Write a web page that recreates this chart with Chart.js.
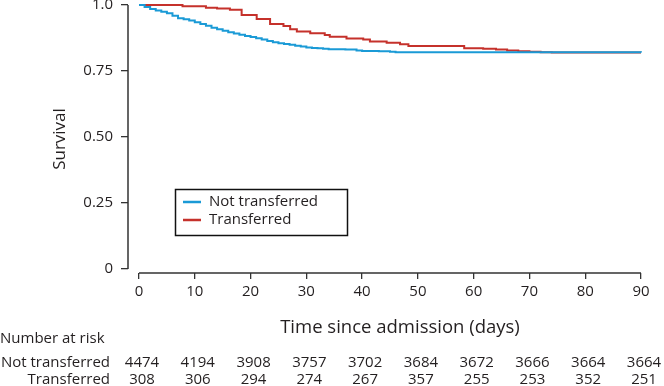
<!DOCTYPE html>
<html><head><meta charset="utf-8">
<script src="https://cdn.jsdelivr.net/npm/chart.js@4"></script>
<style>html,body{margin:0;padding:0;background:#fff}#wrap{width:664px;height:386px;position:relative}</style>
</head><body><div id="wrap"><canvas id="c" width="664" height="386"></canvas></div>
<script>
const FONT = "'Open Sans', sans-serif";
const TEXT = '#231f20';

const seriesNames = ['Not transferred', 'Transferred'];
const notTransferredDays = [0,1,2,3,4,5,6,7,8,9,10,11,12,13,14,15,16,17,18,19,20,21,22,23,24,25,26,27,28,29,30,31,32,33,34,35,37,39,40,43,45,46,90];
const notTransferredSurv = [1.0,0.992,0.985,0.979,0.974,0.969,0.959,0.950,0.946,0.941,0.935,0.928,0.921,0.914,0.908,0.902,0.897,0.892,0.887,0.883,0.879,0.874,0.869,0.864,0.859,0.855,0.852,0.849,0.846,0.843,0.839,0.837,0.836,0.834,0.832,0.832,0.831,0.828,0.826,0.825,0.823,0.821,0.820];
const transferredDays = [0,7.8,12,14,16.3,18.4,21.1,23.5,25.9,27.1,28.3,30.7,33.3,34.2,37.2,40.2,41.4,44.4,46.8,48.3,58.3,61.7,64,66,68,70,72,74,90];
const transferredSurv = [1.0,0.995,0.990,0.987,0.982,0.962,0.947,0.928,0.920,0.908,0.900,0.893,0.886,0.880,0.873,0.869,0.862,0.857,0.851,0.845,0.836,0.834,0.831,0.828,0.825,0.823,0.821,0.820,0.820];

const xTickValues = [0,10,20,30,40,50,60,70,80,90];
const yTickValues = [0,0.25,0.5,0.75,1.0];
const yTickLabels = ['0','0.25','0.50','0.75','1.0'];
const riskTitle = 'Number at risk';
const riskNotTransferred = [4474,4194,3908,3757,3702,3684,3672,3666,3664,3664];
const riskTransferred = [308,306,294,274,267,357,255,253,352,251];
const xTitle = 'Time since admission (days)';
const yTitle = 'Survival';

const COLORS = ['#1a9ad6', '#c5312b'];

function pts(d, s) { return d.map((x, i) => ({x, y: s[i]})); }

const extras = {
  id: 'extras',
  beforeDatasetsDraw(chart) {
    const {ctx, chartArea, scales: {x, y}} = chart;
    ctx.save();
    ctx.strokeStyle = '#333';
    ctx.lineWidth = 1.5;
    ctx.beginPath();
    ctx.moveTo(x.getPixelForValue(xTickValues[0]), chartArea.bottom);
    ctx.lineTo(x.getPixelForValue(xTickValues[xTickValues.length-1]), chartArea.bottom);
    ctx.moveTo(chartArea.left, y.getPixelForValue(yTickValues[0]));
    ctx.lineTo(chartArea.left, y.getPixelForValue(yTickValues[yTickValues.length-1]));
    ctx.stroke();
    ctx.restore();
  },
  afterDraw(chart) {
    const {ctx, scales: {x}} = chart;
    ctx.save();
    ctx.fillStyle = TEXT;
    ctx.textBaseline = 'middle';
    // x title
    ctx.font = "18.5px " + FONT;
    ctx.textAlign = 'center';
    ctx.fillText(xTitle, 400, 328);
    // risk table
    ctx.font = "15px " + FONT;
    ctx.textAlign = 'left';
    ctx.fillText(riskTitle, 0, 339);
    ctx.textAlign = 'right';
    ctx.fillText(seriesNames[0], 110, 363);
    ctx.fillText(seriesNames[1], 110, 380);
    ctx.textAlign = 'center';
    xTickValues.forEach((v, i) => {
      const px = x.getPixelForValue(v) + 3;
      ctx.fillText(String(riskNotTransferred[i]), px, 363);
      ctx.fillText(String(riskTransferred[i]), px, 380);
    });
    // legend
    ctx.strokeStyle = '#111';
    ctx.lineWidth = 1.5;
    ctx.strokeRect(175.5, 189.5, 172, 46);
    ctx.font = "15px " + FONT;
    ctx.textAlign = 'left';
    chart.data.datasets.forEach((ds, i) => {
      const yy = 202 + i * 18;
      ctx.strokeStyle = ds.borderColor;
      ctx.lineWidth = 2.5;
      ctx.beginPath();
      ctx.moveTo(183, yy);
      ctx.lineTo(201, yy);
      ctx.stroke();
      ctx.fillStyle = TEXT;
      ctx.fillText(ds.label, 209, yy);
    });
    ctx.restore();
  }
};

new Chart(document.getElementById('c'), {
  type: 'line',
  data: {
    datasets: [
      {label: seriesNames[0], data: pts(notTransferredDays, notTransferredSurv), borderColor: COLORS[0], borderWidth: 2, stepped: true, pointRadius: 0, fill: false, clip: 6},
      {label: seriesNames[1], data: pts(transferredDays, transferredSurv), borderColor: COLORS[1], borderWidth: 2, stepped: true, pointRadius: 0, fill: false, clip: 6}
    ]
  },
  options: {
    responsive: false,
    animation: false,
    devicePixelRatio: 1,
    layout: {padding: {top: 5, right: 23, left: 0, bottom: 0}},
    plugins: {legend: {display: false}, tooltip: {enabled: false}},
    scales: {
      x: {
        type: 'linear', min: -1.972, max: 90,
        afterBuildTicks: s => { s.ticks = xTickValues.map(v => ({value: v})); },
        afterFit: s => { s.height = 113; s.paddingLeft = 0; s.paddingRight = 0; },
        ticks: {font: {family: FONT, size: 15}, color: TEXT, padding: 4, maxRotation: 0, autoSkip: false, callback: v => String(v)},
        grid: {drawOnChartArea: false, drawTicks: true, tickLength: 6, color: '#333', lineWidth: 1.3},
        border: {display: false}
      },
      y: {
        type: 'linear', min: -0.01515, max: 1.0,
        afterBuildTicks: s => { s.ticks = yTickValues.map(v => ({value: v})); },
        afterFit: s => { s.width = 128; s.paddingTop = 0; s.paddingBottom = 0; },
        ticks: {font: {family: FONT, size: 15}, color: TEXT, padding: 8, autoSkip: false,
          callback: v => { const i = yTickValues.indexOf(v); return i >= 0 ? yTickLabels[i] : ''; }},
        grid: {drawOnChartArea: false, drawTicks: true, tickLength: 7, color: '#333', lineWidth: 1.3},
        border: {display: false},
        title: {display: true, text: yTitle, font: {family: FONT, size: 17}, color: TEXT, padding: {top: 50, bottom: 0}}
      }
    }
  },
  plugins: [extras]
});
</script></body></html>
